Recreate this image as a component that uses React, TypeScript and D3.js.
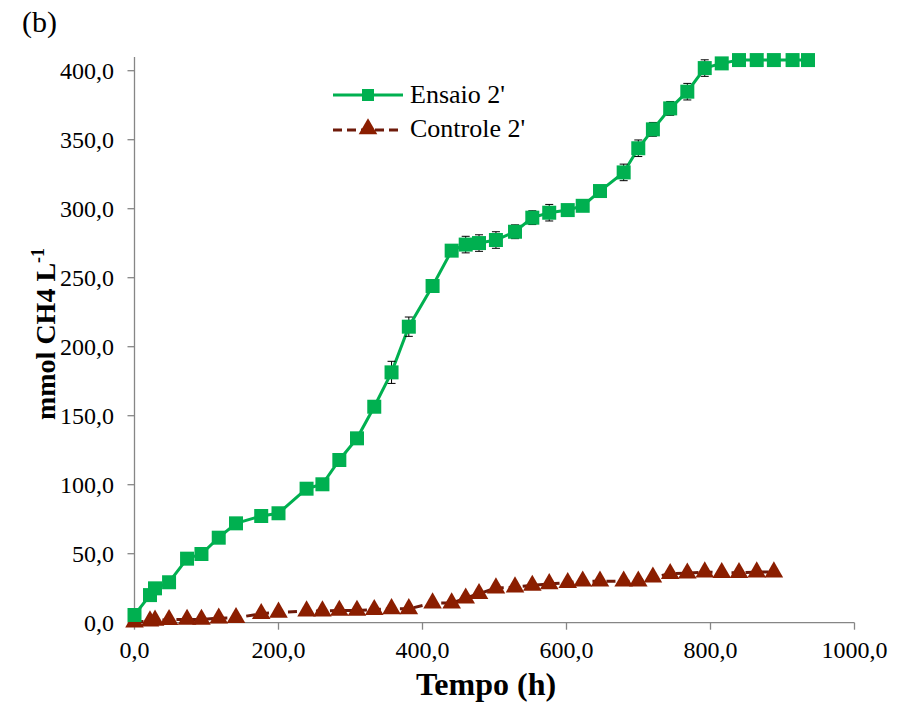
import * as d3 from 'd3';

// tempo (h)
const tempo = [
  0, 21.5, 28.5, 48, 73, 93, 117, 141, 176, 200, 239, 261, 284.5, 309, 333, 357, 381, 414, 440.5, 460,
  478.5, 502, 528.5, 552.5, 576, 601.7, 622.5, 646.5, 679.4, 699.7, 720, 744, 767.8, 792, 815.6, 839.6,
  864.2, 888, 914, 935.4,
];

const ensaio = [
  5.6, 20, 24.9, 29.3, 46.4, 49.8, 61.6, 72, 77.3, 79.3, 97.1, 100.3, 117.9, 133.6, 156.5, 181.4, 214.5,
  244, 269.6, 274, 275.1, 277.3, 283.3, 293.5, 297.1, 299, 302.1, 312.8, 326.3, 343.8, 357.5, 372.7,
  384.8, 401.9, 405.3, 407.7, 407.7, 407.7, 407.7, 407.7,
];
const ensaioErr = [
  0, 1, 1, 0, 1, 1, 1, 1, 1, 1, 1, 1, 1, 1, 1, 8, 7, 2, 4, 6, 6, 6, 5, 5, 6, 2, 1, 1, 6, 6, 5, 5, 6, 6,
  4, 3, 3, 3, 0, 0,
];

const controle = [
  0.5, 1.2, 1.7, 2.2, 2.4, 2.4, 3.3, 3.6, 6.5, 7.5, 8.4, 8.4, 8.9, 8.9, 9.4, 10.1, 10.1, 14.2, 14.2, 17.8,
  21, 25.1, 25.8, 27, 28.2, 29, 30.1, 30.1, 30.1, 30.1, 33, 35.5, 35.9, 36.7, 36.2, 36.2, 36.7, 36.7,
];
const controleErr = [
  0, 1, 1, 1, 1, 1, 1, 1, 1.5, 1.5, 1.5, 1.5, 1.5, 1.5, 1.5, 1.5, 1.5, 1.5, 1.5, 1.5, 1.5, 1.5, 1.5,
  1.5, 1.5, 1.5, 1.5, 1.5, 1.5, 1.5, 1.5, 1.5, 1.5, 1.5, 1.5, 1.5, 1.5, 1.5,
];

const xTicks = [0, 200, 400, 600, 800, 1000];
const yTicks = [0, 50, 100, 150, 200, 250, 300, 350, 400];

const GREEN = '#00B050';
const RED = '#8B1E00';
const RED_LINE = '#6E1A0A';
const AXIS = '#868686';
const FONT = "'Liberation Serif', 'Times New Roman', serif";

const fmt = (v: number) => v.toFixed(1).replace('.', ',');

export default function App() {
  const x = d3.scaleLinear().domain([0, 1000]).range([134.5, 854.5]);
  const y = d3.scaleLinear().domain([0, 400]).range([622.7, 70.7]);

  const ensaioPts = tempo.map((t, i) => ({ t, v: ensaio[i], e: ensaioErr[i] }));
  const controlePts = controle.map((v, i) => ({ t: tempo[i], v, e: controleErr[i] }));

  const line = d3
    .line<{ t: number; v: number }>()
    .x((d) => x(d.t))
    .y((d) => y(d.v));

  const square = d3.symbol(d3.symbolSquare, 196)() ?? '';
  const triangle = d3.symbol(d3.symbolTriangle, 150)() ?? '';

  const errBars = (pts: { t: number; v: number; e: number }[]) =>
    pts
      .filter((d) => d.e > 0)
      .map((d, i) => {
        const cx = x(d.t);
        const y0 = y(d.v - d.e);
        const y1 = y(d.v + d.e);
        return (
          <path
            key={i}
            d={`M${cx},${y0}V${y1}M${cx - 4},${y0}H${cx + 4}M${cx - 4},${y1}H${cx + 4}`}
            stroke="#000"
            strokeWidth={1}
            fill="none"
          />
        );
      });

  return (
    <svg
      width={905}
      height={709}
      style={{ position: 'absolute', left: 0, top: 0, background: '#fff', fontFamily: FONT }}
    >
      <text x={22} y={32} fontSize={30}>
        (b)
      </text>

      {/* axes */}
      <line x1={x(0)} x2={x(0)} y1={57} y2={y(0)} stroke={AXIS} strokeWidth={1.3} />
      <line x1={x(0)} x2={x(1000)} y1={y(0)} y2={y(0)} stroke={AXIS} strokeWidth={1.3} />
      {yTicks.map((t) => (
        <g key={t}>
          <line x1={x(0) - 7} x2={x(0)} y1={y(t)} y2={y(t)} stroke={AXIS} strokeWidth={1.3} />
          <text x={114} y={y(t)} dy="0.33em" textAnchor="end" fontSize={24}>
            {fmt(t)}
          </text>
        </g>
      ))}
      {xTicks.map((t) => (
        <g key={t}>
          <line x1={x(t)} x2={x(t)} y1={y(0)} y2={y(0) + 7} stroke={AXIS} strokeWidth={1.3} />
          <text x={x(t)} y={658} textAnchor="middle" fontSize={24}>
            {fmt(t)}
          </text>
        </g>
      ))}

      <text x={486} y={695} textAnchor="middle" fontSize={32} fontWeight="bold">
        Tempo (h)
      </text>
      <text
        transform="translate(55,334) rotate(-90)"
        textAnchor="middle"
        fontSize={28}
        fontWeight="bold"
      >
        mmol CH4 L<tspan dy={-11} fontSize={18}>-1</tspan>
      </text>

      {/* series */}
      <path d={line(controlePts) ?? ''} fill="none" stroke={RED_LINE} strokeWidth={3} strokeDasharray="9,5" />
      <path d={line(ensaioPts) ?? ''} fill="none" stroke={GREEN} strokeWidth={3} />

      {errBars(controlePts)}
      {controlePts.map((d, i) => (
        <path key={i} d={triangle} transform={`translate(${x(d.t)},${y(d.v)})`} fill={RED} />
      ))}
      {errBars(ensaioPts)}
      {ensaioPts.map((d, i) => (
        <path key={i} d={square} transform={`translate(${x(d.t)},${y(d.v)})`} fill={GREEN} />
      ))}

      {/* legend */}
      <line x1={333} x2={403} y1={95} y2={95} stroke={GREEN} strokeWidth={3} />
      <path d={d3.symbol(d3.symbolSquare, 144)() ?? ''} transform="translate(368,95)" fill={GREEN} />
      <text x={410} y={103} fontSize={26}>
        Ensaio 2'
      </text>
      <line x1={333} x2={403} y1={130} y2={130} stroke={RED_LINE} strokeWidth={3} strokeDasharray="9,5" />
      <path d={d3.symbol(d3.symbolTriangle, 150)() ?? ''} transform="translate(368,129)" fill={RED} />
      <text x={410} y={137} fontSize={26}>
        Controle 2'
      </text>
    </svg>
  );
}
